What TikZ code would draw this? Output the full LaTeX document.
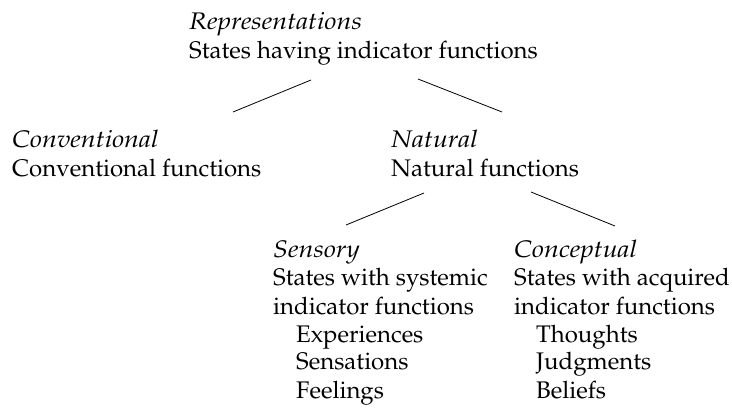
\documentclass[tikz,border=0pt]{standalone}
\usepackage[T1]{fontenc}
\usepackage{mathpazo}
\usepackage{graphicx}
\newcommand{\hdtxt}[1]{\scalebox{1.12}[1]{\itshape #1}}
\begin{document}
\begin{tikzpicture}[x=1pt,y=-1pt,
  txt/.style={anchor=base west,inner sep=0pt,font=\fontsize{24}{28}\selectfont},
  hd/.style={txt},
  branch/.style={line width=0.8pt}]
\useasboundingbox (0,0) rectangle (732,409);
% root
\node[hd]  (rep)  at (189,30) {\hdtxt{Representations}};
\node[txt] (rept) at (189,59) {States having indicator functions};
% level 2
\node[hd]  (conv)  at (12,148) {\hdtxt{Conventional}};
\node[txt] (convt) at (12,177) {Conventional functions};
\node[hd]  (nat)   at (391,148) {\hdtxt{Natural}};
\node[txt] (natt)  at (391,177) {Natural functions};
% level 3
\node[hd]  (sens)  at (273,258) {\hdtxt{Sensory}};
\node[txt] (sens1) at (273,286) {States with systemic};
\node[txt] (sens2) at (273,314) {indicator functions};
\node[txt] (sens3) at (296,342) {Experiences};
\node[txt] (sens4) at (296,370) {Sensations};
\node[txt] (sens5) at (296,398) {Feelings};
\node[hd]  (conc)  at (514,258) {\hdtxt{Conceptual}};
\node[txt] (conc1) at (514,286) {States with acquired};
\node[txt] (conc2) at (514,314) {indicator functions};
\node[txt] (conc3) at (536,342) {Thoughts};
\node[txt] (conc4) at (536,370) {Judgments};
\node[txt] (conc5) at (536,398) {Beliefs};
% connectors
\coordinate (a1) at (311,80);  \coordinate (a2) at (233,112);
\coordinate (b1) at (418,79);  \coordinate (b2) at (502,112);
\coordinate (c1) at (424,193); \coordinate (c2) at (346,225);
\coordinate (d1) at (531,192); \coordinate (d2) at (615,226);
\draw[branch] (a1) -- (a2);
\draw[branch] (b1) -- (b2);
\draw[branch] (c1) -- (c2);
\draw[branch] (d1) -- (d2);
\end{tikzpicture}
\end{document}
